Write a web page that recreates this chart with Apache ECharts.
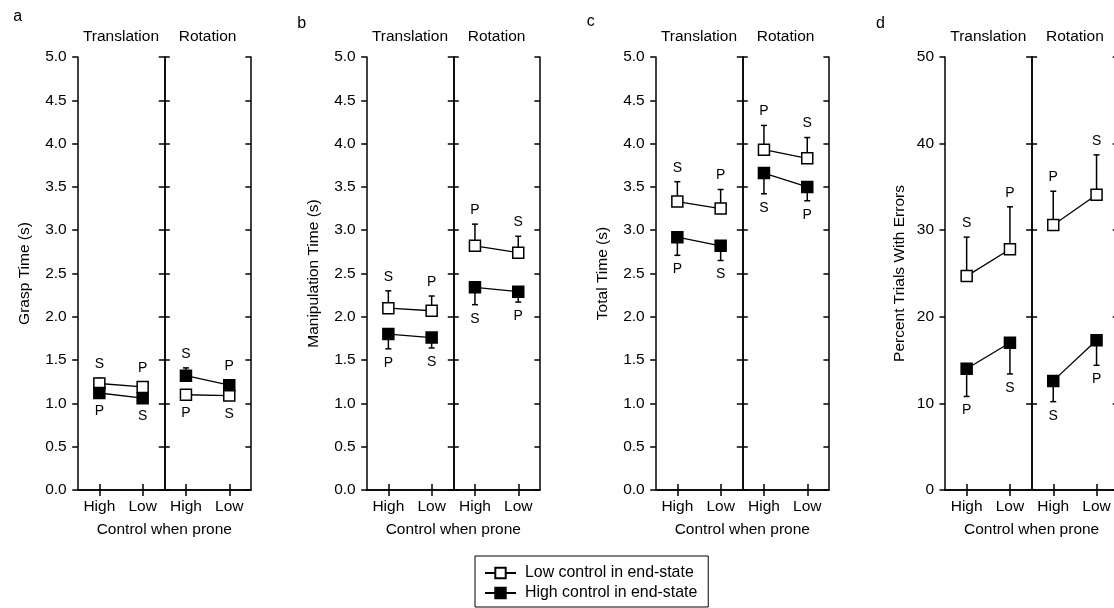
<!DOCTYPE html>
<html>
<head>
<meta charset="utf-8">
<script src="https://cdn.jsdelivr.net/npm/echarts@6/dist/echarts.min.js"></script>
<style>
html,body{margin:0;padding:0;background:#fff;}
#chart{width:1114px;height:608px;}
</style>
</head>
<body>
<div id="chart"></div>
<script>
// ---------------- DATA ----------------
const categories = ['High', 'Low'];
const conditions = ['Translation', 'Rotation'];
const panelLetters = ['a', 'b', 'c', 'd'];
const yAxisNames = ['Grasp Time (s)', 'Manipulation Time (s)', 'Total Time (s)', 'Percent Trials With Errors'];
const yMax = [5, 5, 5, 50];
const yInterval = [0.5, 0.5, 0.5, 10];
const yDecimals = [1, 1, 1, 0];
const seriesNames = ['Low control in end-state', 'High control in end-state'];

// order of values: Translation-High, Translation-Low, Rotation-High, Rotation-Low
// "Err" arrays hold the value at the end of each error bar
const graspLowEnd       = [1.23, 1.19, 1.10, 1.09];
const graspLowEndErr    = [1.29, 1.24, 1.05, 1.04];
const graspHighEnd      = [1.12, 1.06, 1.32, 1.21];
const graspHighEndErr   = [1.07, 1.01, 1.41, 1.27];

const manipLowEnd       = [2.10, 2.07, 2.82, 2.74];
const manipLowEndErr    = [2.30, 2.24, 3.07, 2.93];
const manipHighEnd      = [1.80, 1.76, 2.34, 2.29];
const manipHighEndErr   = [1.63, 1.64, 2.14, 2.17];

const totalLowEnd       = [3.33, 3.25, 3.93, 3.83];
const totalLowEndErr    = [3.56, 3.47, 4.21, 4.07];
const totalHighEnd      = [2.92, 2.82, 3.66, 3.50];
const totalHighEndErr   = [2.71, 2.65, 3.42, 3.34];

const errorsLowEnd      = [24.7, 27.8, 30.6, 34.1];
const errorsLowEndErr   = [29.2, 32.7, 34.5, 38.7];
const errorsHighEnd     = [14.0, 17.0, 12.6, 17.3];
const errorsHighEndErr  = [10.8, 13.4, 10.2, 14.4];

const lowEndLabels  = ['S', 'P', 'P', 'S'];
const highEndLabels = ['P', 'S', 'S', 'P'];

// ---------------- LAYOUT ----------------
const FONT = 'Liberation Sans';
const FS = 15.5;
const PANEL_X = [77.7, 366.7, 655.7, 945];
const SUB_W = 86.6;
const TOP = 57;
const H = 433;
const NAME_GAP = [45, 45, 45, 37];
const LETTER_POS = [[13.3, 16.5], [297.3, 23.4], [586.7, 21.4], [876, 23.4]];

const panels = [
  {low: graspLowEnd, lowErr: graspLowEndErr, high: graspHighEnd, highErr: graspHighEndErr},
  {low: manipLowEnd, lowErr: manipLowEndErr, high: manipHighEnd, highErr: manipHighEndErr},
  {low: totalLowEnd, lowErr: totalLowEndErr, high: totalHighEnd, highErr: totalHighEndErr},
  {low: errorsLowEnd, lowErr: errorsLowEndErr, high: errorsHighEnd, highErr: errorsHighEndErr}
];

const black = '#000';
const grids = [], xAxes = [], yAxes = [], series = [], graphics = [];

panels.forEach((pd, p) => {
  for (let s = 0; s < 2; s++) {
    const g = p * 2 + s;
    grids.push({left: PANEL_X[p] + s * SUB_W, top: TOP, width: SUB_W, height: H,
                containLabel: false, outerBoundsMode: 'none'});
    const axisLine = {show: true, lineStyle: {color: black, width: 1.5}};
    const tickStyle = {color: black, width: 1.5};
    xAxes.push({
      gridIndex: g, type: 'category', data: categories, position: 'bottom', boundaryGap: true,
      axisLine: axisLine,
      axisTick: {show: true, inside: true, length: 6, alignWithLabel: true, lineStyle: tickStyle},
      axisLabel: {color: black, fontSize: FS, fontFamily: FONT, margin: 9},
      splitLine: {show: false}
    });
    xAxes.push({
      gridIndex: g, type: 'category', data: categories, position: 'top', boundaryGap: true,
      axisLine: axisLine,
      axisTick: {show: true, inside: true, length: 6, alignWithLabel: true, lineStyle: tickStyle},
      axisLabel: {show: false},
      splitLine: {show: false},
      name: conditions[s], nameLocation: 'middle', nameGap: 12,
      nameTextStyle: {color: black, fontSize: FS, fontFamily: FONT}
    });
    yAxes.push({
      gridIndex: g, type: 'value', min: 0, max: yMax[p], interval: yInterval[p], position: 'left',
      axisLine: axisLine,
      axisTick: {show: true, inside: s === 1, length: 5.5, lineStyle: tickStyle},
      axisLabel: {show: s === 0, color: black, fontSize: FS, fontFamily: FONT, margin: 11,
                  formatter: v => v.toFixed(yDecimals[p])},
      splitLine: {show: false},
      name: s === 0 ? yAxisNames[p] : '', nameLocation: 'middle', nameGap: NAME_GAP[p], nameRotate: 90,
      nameTextStyle: {color: black, fontSize: FS, fontFamily: FONT}
    });
    yAxes.push({
      gridIndex: g, type: 'value', min: 0, max: yMax[p], interval: yInterval[p], position: 'right',
      axisLine: axisLine,
      axisTick: {show: true, inside: true, length: 5.5, lineStyle: tickStyle},
      axisLabel: {show: false},
      splitLine: {show: false}
    });

    const idx = [s * 2, s * 2 + 1];
    const lowData = idx.map(i => pd.low[i]);
    const highData = idx.map(i => pd.high[i]);

    // error bars + S/P labels (custom series, drawn under the squares)
    const errData = [], errLabels = [];
    idx.forEach((i, k) => {
      errData.push([k, pd.low[i], pd.lowErr[i]]); errLabels.push(lowEndLabels[i]);
      errData.push([k, pd.high[i], pd.highErr[i]]); errLabels.push(highEndLabels[i]);
    });
    series.push({
      type: 'custom', name: 'errorbars', xAxisIndex: g * 2, yAxisIndex: g * 2, z: 2,
      data: errData, silent: true,
      renderItem: (params, api) => {
        const x = api.value(0), m = api.value(1), e = api.value(2);
        const p0 = api.coord([x, m]);
        const p1 = api.coord([x, e]);
        const dir = e > m ? -1 : 1;
        return {type: 'group', children: [
          {type: 'line', shape: {x1: p0[0], y1: p0[1], x2: p1[0], y2: p1[1]},
           style: {stroke: black, lineWidth: 1.5}},
          {type: 'line', shape: {x1: p1[0] - 3, y1: p1[1], x2: p1[0] + 3, y2: p1[1]},
           style: {stroke: black, lineWidth: 1.5}},
          {type: 'text', x: p1[0], y: p1[1] + dir * 14,
           style: {text: errLabels[params.dataIndex], fontSize: 14, fontFamily: FONT, fill: black,
                   align: 'center', verticalAlign: 'middle'}}
        ]};
      }
    });
    series.push({
      type: 'line', name: seriesNames[0], xAxisIndex: g * 2, yAxisIndex: g * 2, data: lowData, z: 3,
      symbol: 'rect', symbolSize: 11,
      itemStyle: {color: '#fff', borderColor: black, borderWidth: 1.5},
      lineStyle: {color: black, width: 1.3}, emphasis: {disabled: true}
    });
    series.push({
      type: 'line', name: seriesNames[1], xAxisIndex: g * 2, yAxisIndex: g * 2, data: highData, z: 4,
      symbol: 'rect', symbolSize: 11,
      itemStyle: {color: black, borderColor: black, borderWidth: 1.5},
      lineStyle: {color: black, width: 1.3}, emphasis: {disabled: true}
    });
  }
  graphics.push({type: 'text', x: LETTER_POS[p][0], y: LETTER_POS[p][1],
    style: {text: panelLetters[p], fontSize: 16, fontFamily: FONT, fill: black, align: 'left', verticalAlign: 'middle'}});
  graphics.push({type: 'text', x: PANEL_X[p] + SUB_W, y: 530,
    style: {text: 'Control when prone', fontSize: FS, fontFamily: FONT, fill: black, align: 'center', verticalAlign: 'middle'}});
});

const chart = echarts.init(document.getElementById('chart'), null, {renderer: 'canvas'});
chart.setOption({
  animation: false,
  backgroundColor: '#fff',
  grid: grids,
  xAxis: xAxes,
  yAxis: yAxes,
  series: series,
  graphic: graphics,
  legend: {
    data: seriesNames, orient: 'vertical', left: 475, top: 556,
    itemWidth: 31, itemHeight: 13, itemGap: 4,
    borderColor: black, borderWidth: 1, padding: [9, 11, 6, 9],
    selectedMode: false,
    textStyle: {color: black, fontSize: 15.9, fontFamily: FONT, padding: [0, 0, 0, 4]}
  }
});
</script>
</body>
</html>
